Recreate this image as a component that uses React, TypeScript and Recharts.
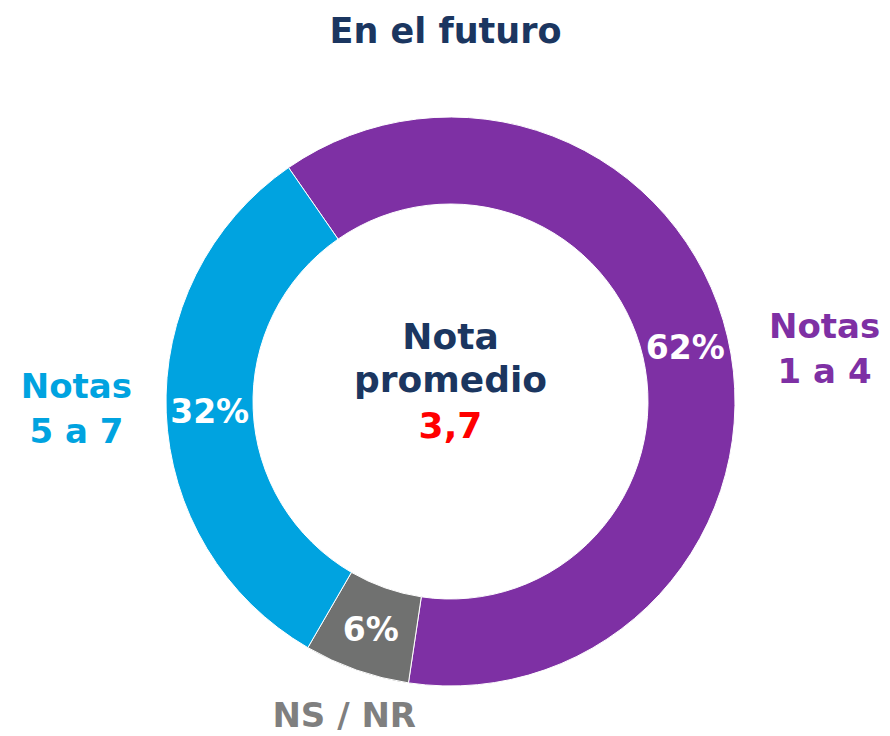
import { PieChart, Pie, Cell } from 'recharts'

// Slices, clockwise from the top-left boundary
const categories = ['Notas 1 a 4', 'NS / NR', 'Notas 5 a 7']
const shares = [62, 6, 32]
const labelLines = [['Notas', '1 a 4'], ['NS / NR'], ['Notas', '5 a 7']]

const title = 'En el futuro'
const centerLines = ['Nota', 'promedio']
const averageScore = '3,7'

const sliceColors = ['#7E30A4', '#707170', '#00A3E0']
const labelColors = ['#7E30A4', '#7F7F7F', '#00A3E0']
const NAVY = '#1B3660'
const FONT = '"DejaVu Sans", sans-serif'

// outside labels were hand-placed in the original, small vertical nudges
const nameShift: Record<string, number> = { 'Notas 1 a 4': 21, 'Notas 5 a 7': -6, 'NS / NR': -3 }

const data = categories.map((name, i) => ({ name, value: shares[i] }))

const RAD = Math.PI / 180

const renderLabel = (props: any) => {
  const { cx, cy, midAngle, innerRadius, outerRadius, index, value } = props
  const dx = Math.cos(-midAngle * RAD)
  const dy = Math.sin(-midAngle * RAD)

  // percentage in the middle of the ring
  const mid = (innerRadius + outerRadius) / 2
  const pctSize = 33
  const px = cx + dx * mid
  const py = cy + dy * mid

  // category name outside the ring
  const lines = labelLines[index]
  const fs = 34
  const capH = fs * 0.73
  const lineGap = 45
  const blockH = capH + (lines.length - 1) * lineGap
  const halfW = Math.max(...lines.map((l) => l.length)) * fs * 0.327
  let lx: number
  let ly: number
  if (Math.abs(dx) > Math.abs(dy)) {
    const ex = outerRadius + 34
    lx = cx + Math.sign(dx) * (ex + halfW)
    ly = cy + dy * (ex / Math.abs(dx))
  } else {
    const ey = outerRadius + 19
    lx = cx + dx * (ey / Math.abs(dy))
    ly = cy + Math.sign(dy) * (ey + blockH / 2)
  }
  ly += nameShift[categories[index]] || 0
  const top = ly - blockH / 2

  return (
    <g>
      <text
        x={px}
        y={py + pctSize * 0.36}
        textAnchor="middle"
        fill="#fff"
        fontSize={pctSize}
        fontWeight={700}
        fontFamily={FONT}
      >
        {value}%
      </text>
      <text
        textAnchor="middle"
        fill={labelColors[index]}
        fontSize={fs}
        fontWeight={700}
        fontFamily={FONT}
      >
        {lines.map((l, i) => (
          <tspan key={i} x={lx} y={top + capH + i * lineGap}>
            {l}
          </tspan>
        ))}
      </text>
    </g>
  )
}

export default function App() {
  const cx = 450.5
  const cy = 401.5
  return (
    <div style={{ position: 'relative', width: 890, height: 736, background: '#fff' }}>
      <style>{'body{margin:0}'}</style>
      <PieChart width={890} height={736} margin={{ top: 0, right: 0, bottom: 0, left: 0 }}>
        <Pie
          data={data}
          dataKey="value"
          nameKey="name"
          cx={cx}
          cy={cy}
          innerRadius={197.5}
          outerRadius={284.5}
          startAngle={124.7}
          endAngle={-235.3}
          stroke="#fff"
          strokeWidth={1}
          label={renderLabel}
          labelLine={false}
          isAnimationActive={false}
        >
          {data.map((d, i) => (
            <Cell key={d.name} fill={sliceColors[i]} />
          ))}
        </Pie>
      </PieChart>
      <svg
        width={890}
        height={736}
        style={{ position: 'absolute', left: 0, top: 0, pointerEvents: 'none' }}
      >
        <text x={445.5} y={43} textAnchor="middle" fill={NAVY} fontSize={35} fontWeight={700} fontFamily={FONT}>
          {title}
        </text>
        <text textAnchor="middle" fill={NAVY} fontSize={36} fontWeight={700} fontFamily={FONT}>
          {centerLines.map((l, i) => (
            <tspan key={l} x={cx} y={349 + i * 43}>
              {l}
            </tspan>
          ))}
        </text>
        <text x={cx} y={438} textAnchor="middle" fill="#FF0000" fontSize={36} fontWeight={700} fontFamily={FONT}>
          {averageScore}
        </text>
      </svg>
    </div>
  )
}
